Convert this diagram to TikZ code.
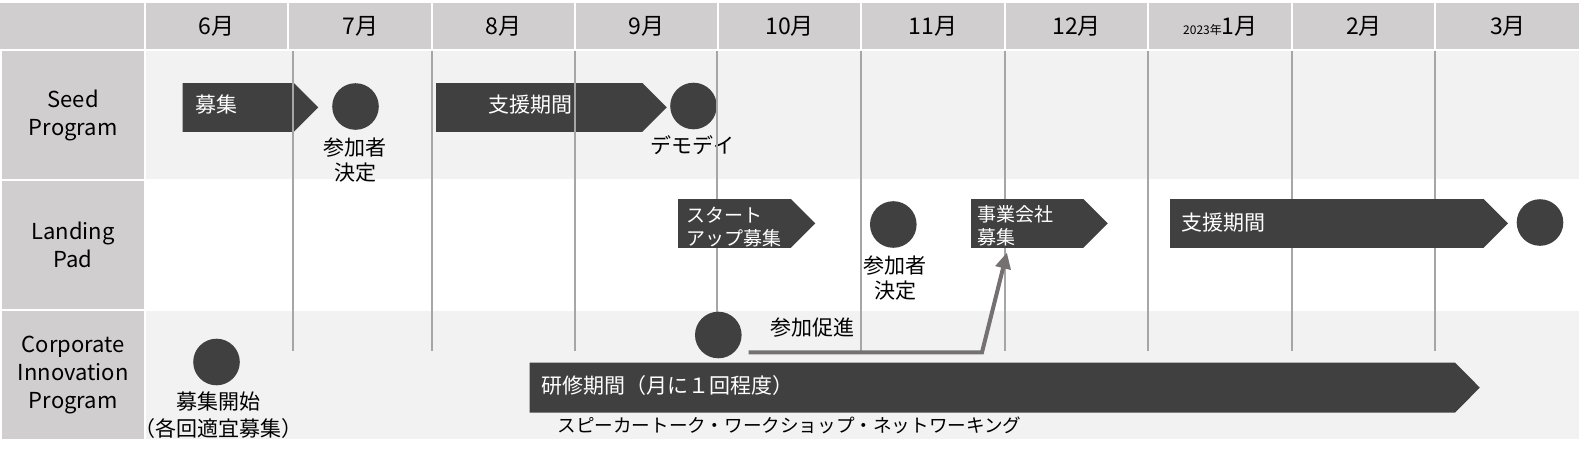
\documentclass[tikz,border=0pt]{standalone}
\usepackage{fontspec}
\setmainfont{Noto Sans CJK JP}
\usetikzlibrary{arrows.meta}
\definecolor{hdrgray}{HTML}{D0CECE}
\definecolor{lightbg}{HTML}{F2F2F2}
\definecolor{dark}{HTML}{404040}
\definecolor{gridgray}{HTML}{A6A6A6}
\definecolor{conncol}{HTML}{767171}
\newcommand{\pentfill}[2]{\fill[dark] (#1.north west) -- (#1.north east) -- ([xshift=#2]#1.east) -- (#1.south east) -- (#1.south west) -- cycle;}
\begin{document}
\begin{tikzpicture}[x=0.5pt,y=-0.5pt,
  hdr/.style={fill=hdrgray, inner sep=0pt, anchor=north west, font=\fontsize{11.5pt}{13pt}\selectfont},
  rowlbl/.style={fill=hdrgray, inner sep=0pt, anchor=north west, align=center, font=\fontsize{11pt}{14pt}\selectfont},
  bar/.style={inner sep=0pt, anchor=north west, minimum height=24pt},
  dot/.style={circle, fill=dark, minimum size=23.3pt, inner sep=0pt},
  gridline/.style={draw=gridgray, line width=1pt},
  intext/.style={text=white, inner sep=0pt, anchor=west, align=left, font=\fontsize{10.5pt}{12.5pt}\selectfont},
  intextsm/.style={intext, font=\fontsize{9.5pt}{11.25pt}\selectfont},
  note/.style={inner sep=0pt, align=center, font=\fontsize{10.5pt}{12.5pt}\selectfont},
  conn/.style={draw=conncol, line width=2pt, -{Triangle[length=8pt,width=7.5pt]}}
]
\useasboundingbox[fill=white] (0,0) rectangle (1579,455);
% header
\node[hdr, minimum width=71.75pt, minimum height=22.65pt] (h0) at (0,3) {};
\foreach \a/\b/\t [count=\i] in {145.5/287/6月, 289/430.5/7月, 432.5/573.5/8月, 575.5/716.5/9月, 718.5/860/10月, 862/1003.5/11月, 1005.5/1147/12月, 1149/1291/{{\fontsize{6pt}{7pt}\selectfont 2023年}1月}, 1293/1434/2月, 1436/1579/3月}
  \node[hdr, minimum width={(\b-\a)*0.5pt}, minimum height=22.65pt] (m\i) at (\a,3) {\t};
% row labels
\node[rowlbl, minimum width=70.75pt, minimum height=64.15pt] (rs) at (2,50.7) {Seed\\Program};
\node[rowlbl, minimum width=70.75pt, minimum height=63.65pt] (rl) at (2,181) {Landing\\Pad};
\node[rowlbl, minimum width=70.75pt, minimum height=63.65pt] (rc) at (2,311) {Corporate\\Innovation\\Program};
% row backgrounds
\fill[lightbg] (145.5,50.7) rectangle (1579,179);
\fill[lightbg] (145.5,311) rectangle (1579,438.5);
% seed program
\node[bar, minimum width=55.15pt] (boshu) at (182.7,83) {};
\pentfill{boshu}{12.25pt}
\node[intext] (boshuT) at (195,105) {募集};
\node[bar, minimum width=102.75pt] (shien1) at (436,83) {};
\pentfill{shien1}{12.25pt}
\node[intext] (shien1T) at (488.5,105) {支援期間};
\node[dot] (s1) at (355.5,106.5) {};
\node[dot] (s2) at (693.5,106) {};
\node[note] (s1T) at (355,160.5) {参加者\\決定};
\node[note] (s2T) at (692,145) {デモデイ};
% grid lines
\foreach \x in {292.5,431.5,574.5,716.5,861,1005,1148,1292,1435}
  \draw[gridline] (\x,50.7) -- (\x,350.7);
% landing pad
\node[bar, minimum width=56pt] (start) at (678,199) {};
\pentfill{start}{12.25pt}
\node[intextsm] (startT) at (686.5,227) {スタート\\アップ募集};
\node[bar, minimum width=55.75pt] (jigyo) at (971,199) {};
\pentfill{jigyo}{12.25pt}
\node[intextsm] (jigyoT) at (977.5,226) {事業会社\\募集};
\node[bar, minimum width=156.35pt] (shien2) at (1170,199) {};
\pentfill{shien2}{12.25pt}
\node[intext] (shien2T) at (1181.5,222.5) {支援期間};
\node[dot] (l1) at (893.3,224.5) {};
\node[dot] (l2) at (1540,222.5) {};
\node[note] (l1T) at (895,278.4) {参加者\\決定};
% corporate innovation program
\node[bar, minimum width=462.4pt, minimum height=24.5pt] (kenshu) at (529.5,362.7) {};
\pentfill{kenshu}{12.35pt}
\node[intext] (kenshuT) at (541,386) {研修期間（月に１回程度）};
\node[note, anchor=west, font=\fontsize{9.3pt}{11pt}\selectfont] (speak) at (557,425) {スピーカートーク・ワークショップ・ネットワーキング};
\node[dot] (c1) at (216.5,362) {};
\node[note, font=\fontsize{10.5pt}{13.3pt}\selectfont] (c1T) at (218,415) {募集開始\\（各回適宜募集）};
\node[dot] (c2) at (718.3,335) {};
\node[note] (c2T) at (812,327.5) {参加促進};
\draw[conn] ([xshift=15.1pt,yshift=-8.65pt]c2.center) -- ++(233.5,0) -- ([xshift=-10.1pt,yshift=-2.35pt]jigyo.south);
\end{tikzpicture}
\end{document}
